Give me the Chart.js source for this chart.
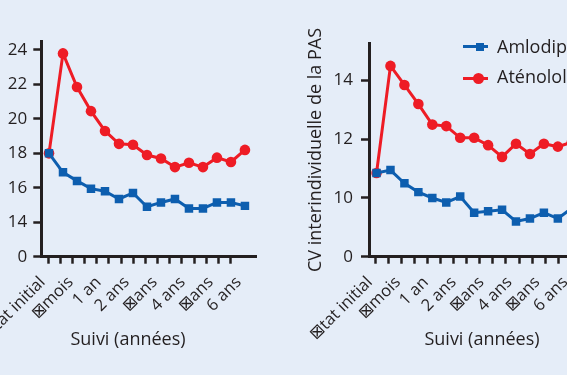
<!DOCTYPE html>
<html>
<head>
<meta charset="utf-8">
<script src="https://cdn.jsdelivr.net/npm/chart.js@4.4.1/dist/chart.umd.min.js"></script>
<style>
  html, body { margin: 0; padding: 0; width: 567px; height: 375px; overflow: hidden; background: #e5edf8; }
  body { font-family: 'Open Sans', 'DejaVu Sans', sans-serif; color: #231f20; position: relative; }
  .box { position: absolute; top: 0; height: 375px; }
  .xtitle { position: absolute; top: 327px; font-size: 18px; line-height: 22px; white-space: nowrap; transform: translateX(-50%); }
  .lg-line { position: absolute; left: 463px; width: 25px; height: 3px; }
  .lg-mark { position: absolute; }
  .lg-text { position: absolute; left: 497px; font-size: 18px; line-height: 22px; white-space: nowrap; }
</style>
</head>
<body>
<div class="box" style="left:-60px;width:330px"><canvas id="left" width="330" height="375"></canvas></div>
<div class="box" style="left:260px;width:340px"><canvas id="right" width="340" height="375"></canvas></div>

<div class="xtitle" style="left:128px">Suivi (années)</div>
<div class="xtitle" style="left:482px">Suivi (années)</div>

<div class="lg-line" style="top:45px;background:#0d5eaf"></div>
<div class="lg-mark" style="left:475.5px;top:43px;width:8px;height:8px;background:#0d5eaf"></div>
<div class="lg-text" style="top:35px">Amlodipine</div>
<div class="lg-line" style="top:76.5px;background:#ee1c25"></div>
<div class="lg-mark" style="left:473px;top:72.5px;width:11px;height:11px;border-radius:50%;background:#ee1c25"></div>
<div class="lg-text" style="top:65px">Aténolol</div>

<script>
// Data
const visits = [0, 1, 2, 3, 4, 5, 6, 7, 8, 9, 10, 11, 12, 13, 14];
const xLabels = ['⊠tat initial', '⊠mois', '1 an', '2 ans', '⊠ans', '4 ans', '⊠ans', '6 ans'];

// left panel (axis break: the "0" tick sits where 12 would be)
const leftAmlodipine = [18.0, 16.9, 16.4, 15.95, 15.8, 15.35, 15.7, 14.9, 15.15, 15.35, 14.8, 14.8, 15.15, 15.15, 14.95];
const leftAtenolol = [18.0, 23.8, 21.85, 20.45, 19.3, 18.55, 18.5, 17.9, 17.7, 17.2, 17.45, 17.2, 17.75, 17.5, 18.2];
const leftYTicks = [12, 14, 16, 18, 20, 22, 24];
const leftYLabels = ['0', '14', '16', '18', '20', '22', '24'];

// right panel (axis break: the "0" tick sits where 8 would be)
const rightAmlodipine = [10.85, 10.95, 10.5, 10.2, 10.0, 9.85, 10.05, 9.5, 9.55, 9.6, 9.2, 9.3, 9.5, 9.3, 9.65];
const rightAtenolol = [10.85, 14.5, 13.85, 13.2, 12.5, 12.45, 12.05, 12.05, 11.8, 11.4, 11.85, 11.5, 11.85, 11.75, 11.9];
const rightYTicks = [8, 10, 12, 14];
const rightYLabels = ['0', '10', '12', '14'];

const ink = '#231f20';
const blue = '#0d5eaf';
const red = '#ee1c25';

Chart.defaults.font.family = "'Open Sans', 'DejaVu Sans', sans-serif";
Chart.defaults.color = ink;

// x ticks: 16 plain tick marks + 8 labels that sit between them
function xTicks(markStart, markStep, labelShift) {
    const t = [];
    for (let k = 0; k < 16; k++) t.push({ value: markStart + k * markStep });
    xLabels.forEach((lab, j) => t.push({ value: 2 * j - labelShift, lab: lab }));
    return t.sort((a, b) => a.value - b.value);
}

function toPoints(values) {
    return visits.map((v, i) => ({ x: v, y: values[i] }));
}

function buildChart(id, o) {
    return new Chart(document.getElementById(id), {
        type: 'line',
        data: {
            datasets: [
                {
                    label: 'Amlodipine',
                    data: toPoints(o.amlo),
                    borderColor: blue,
                    backgroundColor: blue,
                    borderWidth: 3,
                    pointStyle: 'rect',
                    pointRadius: 6,
                    pointBorderWidth: 0,
                    tension: 0
                },
                {
                    label: 'Aténolol',
                    data: toPoints(o.aten),
                    borderColor: red,
                    backgroundColor: red,
                    borderWidth: 3,
                    pointStyle: 'circle',
                    pointRadius: 5.3,
                    pointBorderWidth: 0,
                    tension: 0
                }
            ]
        },
        options: {
            responsive: false,
            animation: false,
            layout: { padding: { top: o.top, right: o.right, left: 0, bottom: 0 } },
            plugins: { legend: { display: false }, tooltip: { enabled: false } },
            scales: {
                x: {
                    type: 'linear',
                    bounds: 'data',
                    min: o.xmin,
                    max: o.xmax,
                    afterBuildTicks: ax => { ax.ticks = o.xticks; },
                    afterFit: ax => { ax.height = o.xh; },
                    border: { color: ink, width: 3 },
                    grid: {
                        drawOnChartArea: false,
                        tickLength: 7,
                        tickWidth: 2.5,
                        tickColor: c => (c.tick && c.tick.lab) ? 'rgba(0,0,0,0)' : ink
                    },
                    ticks: {
                        autoSkip: false,
                        minRotation: 45,
                        maxRotation: 45,
                        padding: 9,
                        font: { size: 16.5 },
                        color: ink,
                        callback: (v, i, t) => t[i].lab || ''
                    }
                },
                y: {
                    type: 'linear',
                    bounds: 'data',
                    min: o.ymin,
                    max: o.ymax,
                    afterBuildTicks: ax => { ax.ticks = o.yticks.map(v => ({ value: v })); },
                    afterFit: ax => { ax.width = o.yw; },
                    border: { color: ink, width: 3 },
                    grid: { drawOnChartArea: false, tickLength: 8, tickWidth: 2.5, tickColor: ink },
                    ticks: {
                        padding: o.ypad,
                        font: { size: 17 },
                        color: ink,
                        callback: v => o.ylabels[o.yticks.indexOf(v)]
                    },
                    title: o.ytitle
                }
            }
        }
    });
}

buildChart('left', {
    amlo: leftAmlodipine, aten: leftAtenolol,
    yticks: leftYTicks, ylabels: leftYLabels,
    ymin: 12, ymax: 24.48,
    xmin: -0.55, xmax: 14.84,
    xticks: xTicks(-0.07, 0.87, 0.45),
    top: 41.7, right: 13.3, yw: 101.3, xh: 118.3, ypad: 6,
    ytitle: { display: false }
});

buildChart('right', {
    amlo: rightAmlodipine, aten: rightAtenolol,
    yticks: rightYTicks, ylabels: rightYLabels,
    ymin: 8, ymax: 15.27,
    xmin: -0.54, xmax: 14.84,
    xticks: xTicks(-0.108, 0.939, 0.47),
    top: 43.3, right: 16.5, yw: 109, xh: 118.3, ypad: 8,
    ytitle: {
        display: true,
        text: 'CV interindividuelle de la PAS',
        font: { size: 18 },
        color: ink,
        padding: { top: 45.2, bottom: 0 }
    }
});
</script>
</body>
</html>
